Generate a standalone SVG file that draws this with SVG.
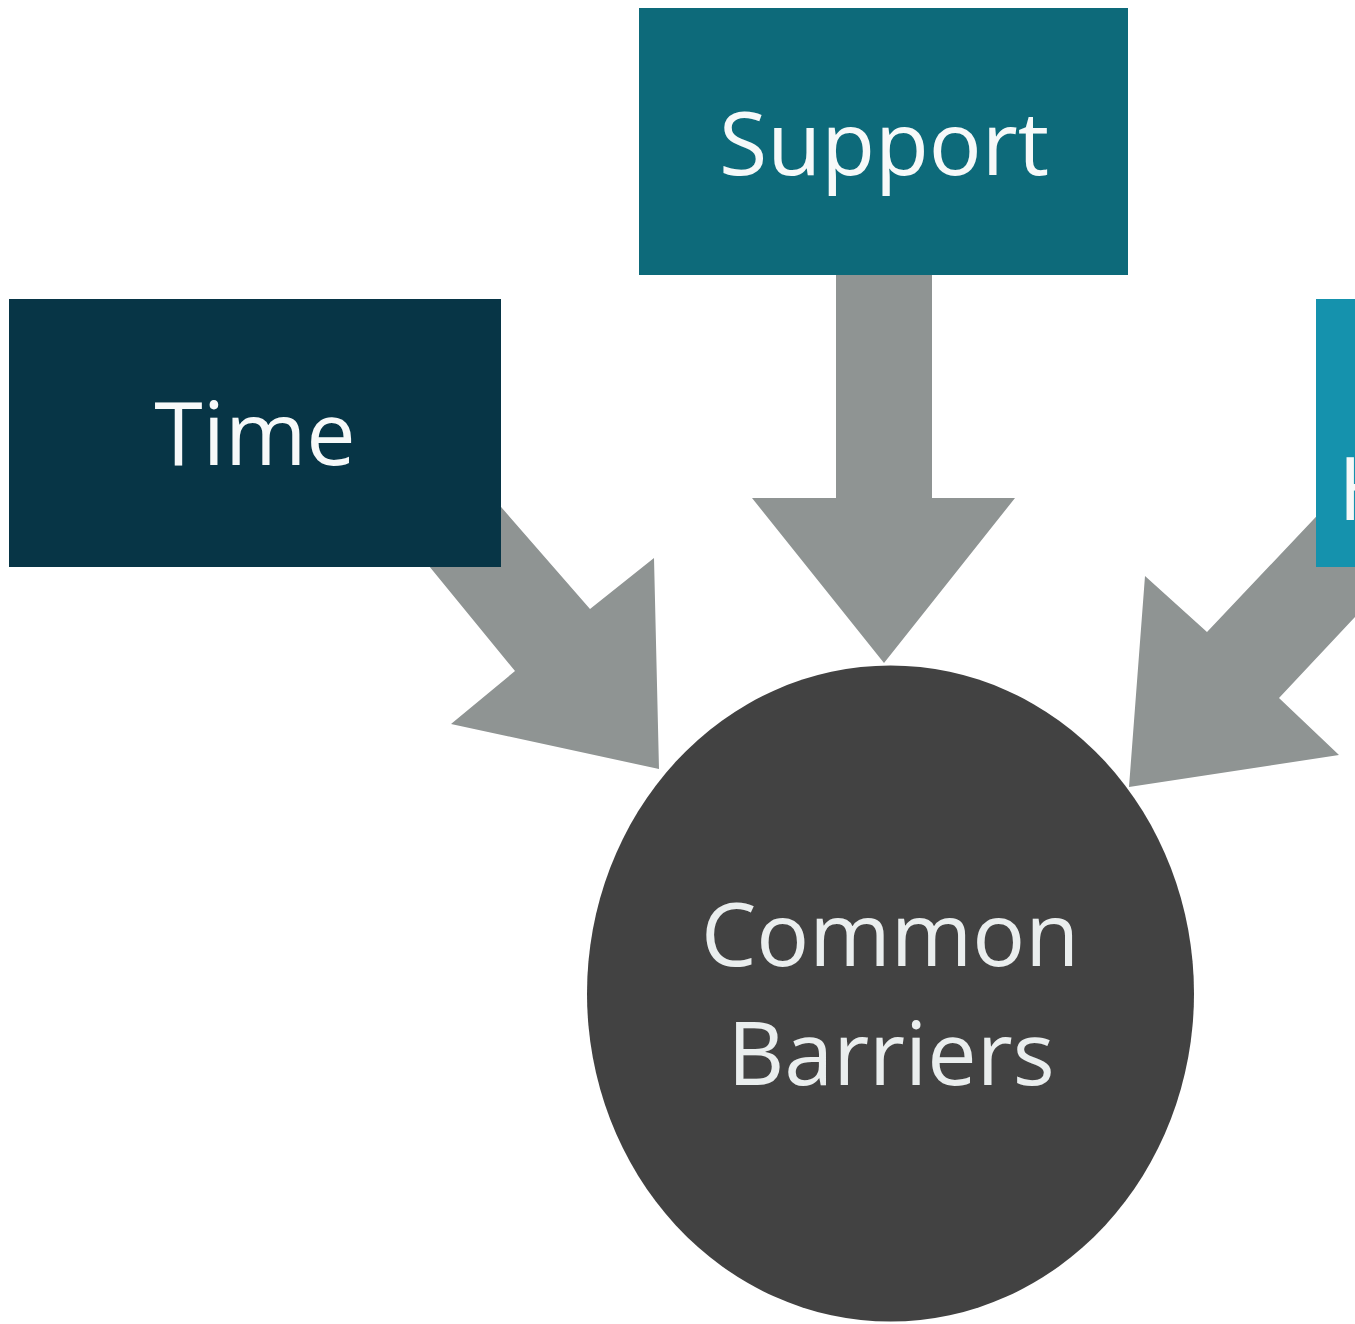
<svg xmlns="http://www.w3.org/2000/svg" width="1355" height="1324" viewBox="0 0 1355 1324">
  <style>
    .lbl { font-family: "Open Sans", "Noto Sans", "Liberation Sans", sans-serif; font-size: 88px; fill: #f7f9f9; }
    .arrow { fill: #8f9493; }
  </style>
  <rect x="0" y="0" width="1355" height="1324" fill="#ffffff"/>
  <g id="connectors">
    <polygon class="arrow" points="836,270 932,270 932,498 1015,498 884,663 752,498 836,498"/>
    <polygon class="arrow" points="375,500 515,671 451,724 659,769 654,558 590,609 495,500"/>
    <polygon class="arrow" points="1400,428 1207,632 1145,576 1129,787 1339,755 1279,698 1400,569"/>
  </g>
  <g id="node-support">
    <rect x="639" y="8" width="489" height="267" fill="#0d6a7a"/>
    <text class="lbl" x="884" y="175" text-anchor="middle">Support</text>
  </g>
  <g id="node-time">
    <rect x="9" y="299" width="492" height="268" fill="#073546"/>
    <text class="lbl" x="255" y="465" text-anchor="middle">Time</text>
  </g>
  <g id="node-right">
    <rect x="1316" y="299" width="100" height="268" fill="#1592ad"/>
    <text class="lbl" x="1338" y="520">H</text>
  </g>
  <g id="node-common">
    <ellipse cx="890.5" cy="993.5" rx="303.5" ry="328" fill="#424242"/>
    <text class="lbl" x="890" y="966" text-anchor="middle" style="fill:#eaeeee">Common</text>
    <text class="lbl" x="891" y="1085" text-anchor="middle" style="fill:#eaeeee">Barriers</text>
  </g>
</svg>
